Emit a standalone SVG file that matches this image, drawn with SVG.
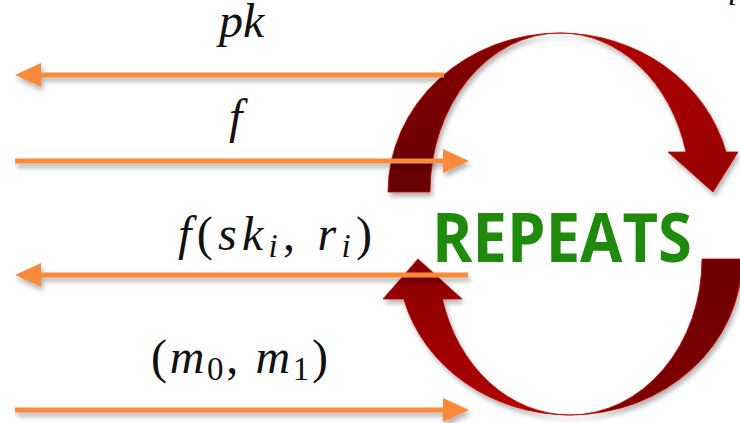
<svg xmlns="http://www.w3.org/2000/svg" width="740" height="423" viewBox="0 0 740 423">
  <defs>
    <style>
      .conn { stroke: #F98A3A; stroke-width: 5; fill: none; }
      .arc { stroke: #c80000; stroke-width: 0.8; }
    </style>
    <marker id="ah" markerWidth="26" markerHeight="26" refX="0" refY="13" orient="auto" markerUnits="userSpaceOnUse">
      <path d="M0,1 L26,13 L0,25 Z" fill="#F98A3A"/>
    </marker>
    <filter id="sh" x="-10%" y="-30%" width="130%" height="180%">
      <feDropShadow dx="2" dy="4" stdDeviation="2.5" flood-color="#000" flood-opacity="0.3"/>
    </filter>
    <linearGradient id="gTL" x1="0" y1="1" x2="0" y2="0">
      <stop offset="0" stop-color="#640000"/>
      <stop offset="1" stop-color="#8a0000"/>
    </linearGradient>
    <linearGradient id="gTR" x1="0" y1="0" x2="1" y2="1">
      <stop offset="0" stop-color="#b40000"/>
      <stop offset="1" stop-color="#950000"/>
    </linearGradient>
    <linearGradient id="gBL" x1="0" y1="1" x2="0" y2="0">
      <stop offset="0" stop-color="#b00000"/>
      <stop offset="1" stop-color="#880000"/>
    </linearGradient>
    <linearGradient id="gBR" x1="0" y1="0" x2="0" y2="1">
      <stop offset="0" stop-color="#6c0000"/>
      <stop offset="1" stop-color="#800000"/>
    </linearGradient>
  </defs>

  <g id="cycle-top" filter="url(#sh)">
    <path class="arc" fill="url(#gTL)" d="M388,192 A172,159 0 0 1 560,33 A130,159 0 0 0 430,192 Z"/>
    <path class="arc" fill="url(#gTR)" d="M560,33 A172,159 0 0 1 726,152 L738,152 L713,192 L668,152 L686,152 A130,159 0 0 0 560,33 Z"/>
  </g>
  <g id="cycle-bottom" filter="url(#sh)">
    <path class="arc" fill="url(#gBR)" d="M702,259 L742,259 A172,156 0 0 1 570,415 A132,156 0 0 0 702,259 Z"/>
    <path class="arc" fill="url(#gBL)" d="M570,415 A172,156 0 0 1 403.7,299 L383,299 L418,259 L462,299 L442.4,299 A132,156 0 0 0 570,415 Z"/>
  </g>

  <g id="repeats-label">
    <text x="432" y="262" font-family="'Open Sans', 'Liberation Sans', sans-serif" font-weight="bold" font-size="68" fill="#1F8A0C" textLength="260" lengthAdjust="spacingAndGlyphs">REPEATS</text>
  </g>

  <g font-family="'Times New Roman', 'Liberation Serif', 'Noto Serif', 'DejaVu Serif', serif" font-size="48" fill="#111">
    <g id="label-pk">
      <text x="219" y="37" font-style="italic">pk</text>
    </g>
    <g id="label-f">
      <text x="229" y="133" font-style="italic">f</text>
    </g>
    <g id="label-fsk">
      <text x="178" y="250" textLength="194" lengthAdjust="spacing"><tspan font-style="italic">f</tspan>(<tspan font-style="italic">sk</tspan><tspan dy="7" font-size="33" font-style="italic">i</tspan><tspan dy="-7">, </tspan><tspan font-style="italic">r</tspan><tspan dy="7" font-size="33" font-style="italic">i</tspan><tspan dy="-7">)</tspan></text>
    </g>
    <g id="label-m">
      <text x="151" y="373" textLength="177" lengthAdjust="spacing">(<tspan font-style="italic">m</tspan><tspan dy="7" font-size="33">0</tspan><tspan dy="-7">, </tspan><tspan font-style="italic">m</tspan><tspan dy="7" font-size="33">1</tspan><tspan dy="-7">)</tspan></text>
    </g>
    <g id="label-ski-partial">
      <text x="684" y="-2" font-style="italic" textLength="53" lengthAdjust="spacing">sk<tspan dy="7" font-size="33">i</tspan></text>
    </g>
  </g>

  <g id="connectors" filter="url(#sh)">
    <line class="conn" x1="444" y1="75" x2="41" y2="75" marker-end="url(#ah)"/>
    <line class="conn" x1="15" y1="161" x2="443" y2="161" marker-end="url(#ah)"/>
    <line class="conn" x1="468" y1="275" x2="41" y2="275" marker-end="url(#ah)"/>
    <line class="conn" x1="15" y1="410" x2="443" y2="410" marker-end="url(#ah)"/>
  </g>
</svg>
